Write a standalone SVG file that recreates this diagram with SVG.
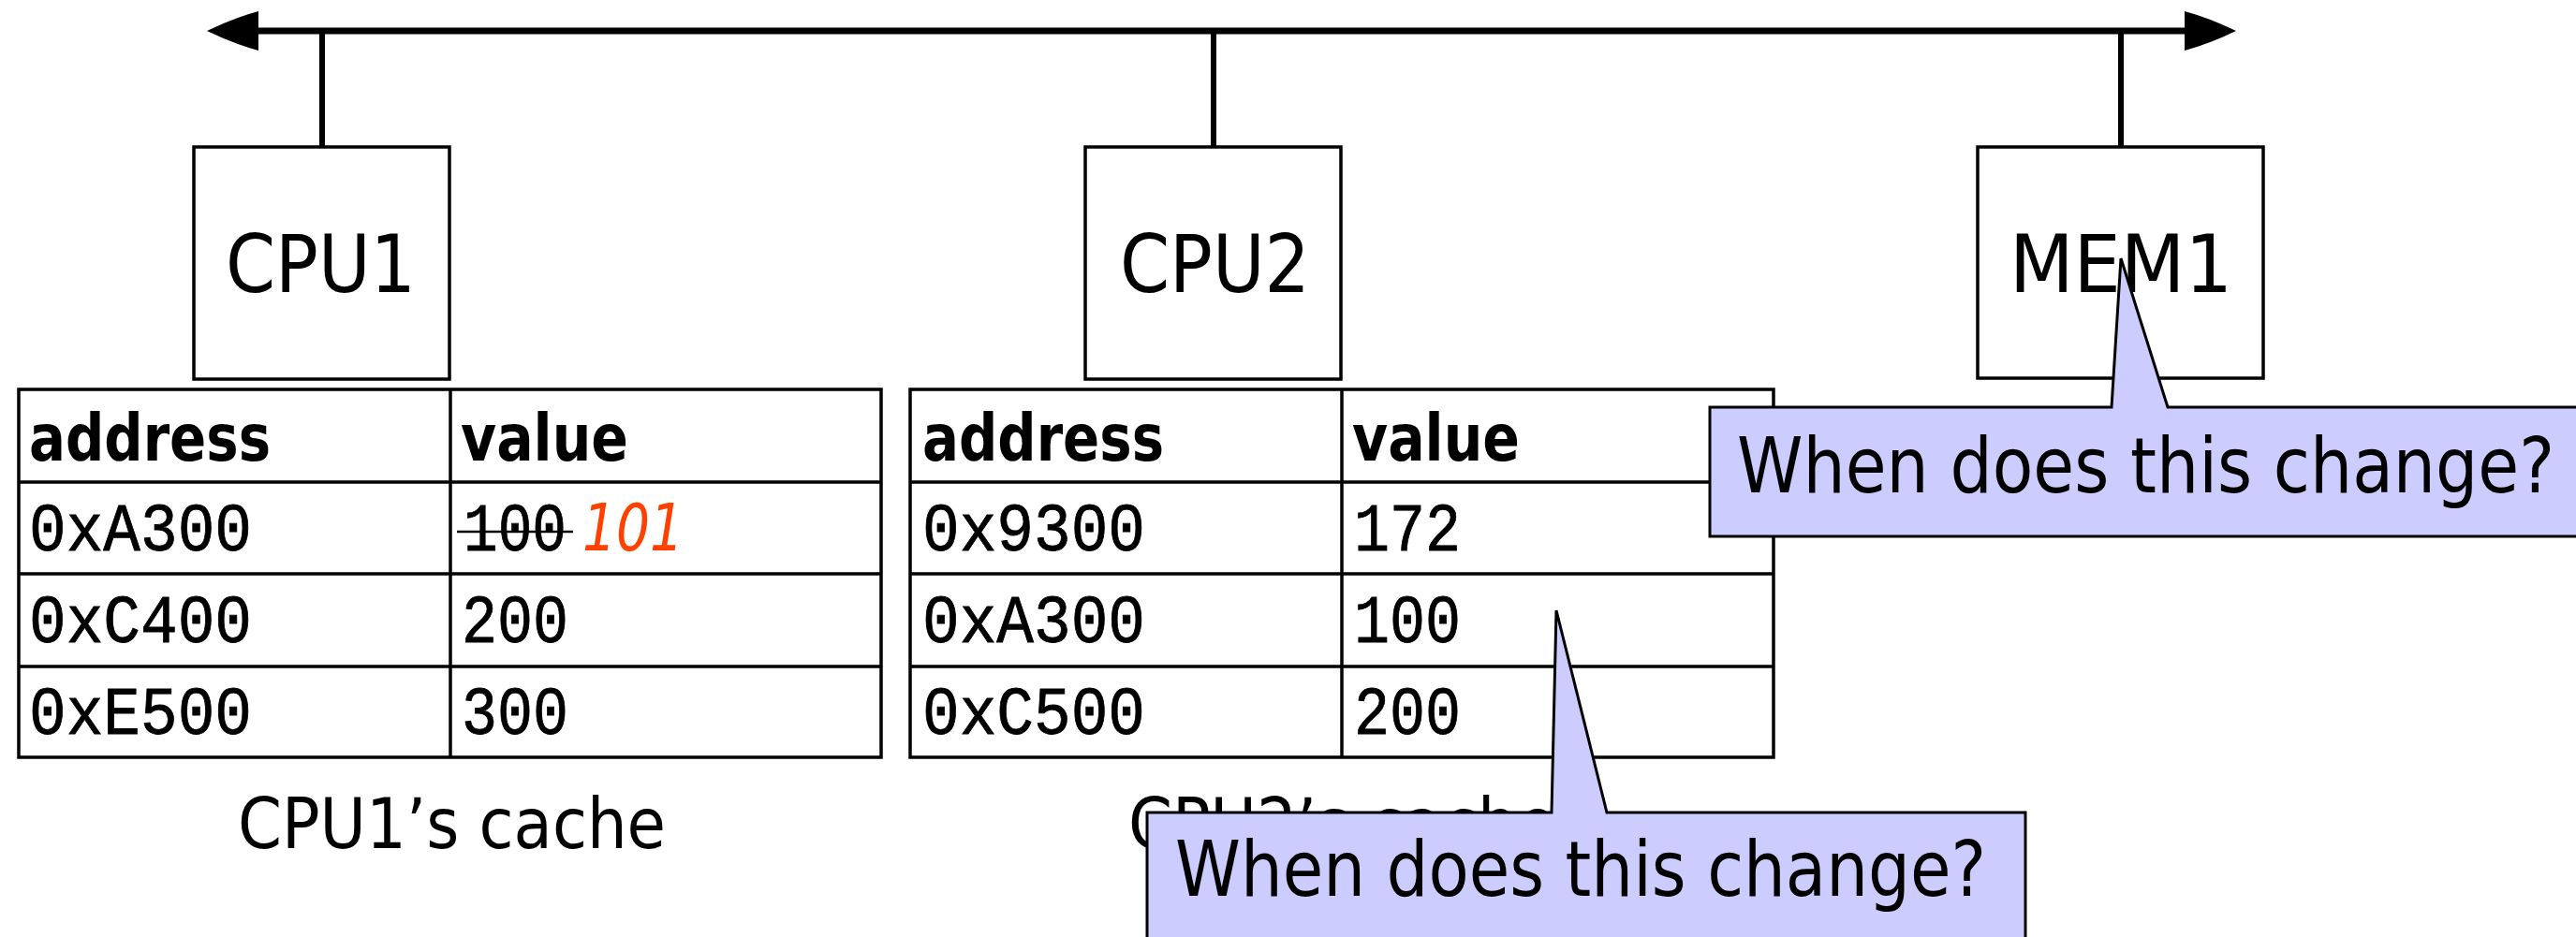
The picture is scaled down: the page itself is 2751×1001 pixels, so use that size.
<svg xmlns="http://www.w3.org/2000/svg" width="2751" height="1001" viewBox="0 0 2751 1001">
  <style>
    .box { fill: #ffffff; stroke: #000000; stroke-width: 3.5; }
    .grid { fill: none; stroke: #000000; stroke-width: 3.5; }
    .stub { stroke: #000000; stroke-width: 6; fill: none; }
    .bus { stroke: #000000; stroke-width: 7; fill: none; }
    .callout { fill: #ccccff; stroke: #000000; stroke-width: 3; stroke-linejoin: miter; }
    .sans { font-family: "DejaVu Sans", "Liberation Sans", sans-serif; fill: #000000; }
    .node { font-size: 85px; }
    .cap { font-size: 74px; }
    .note { font-size: 82px; }
    .head { font-family: "DejaVu Sans", "Liberation Sans", sans-serif; font-weight: bold; font-size: 70px; fill: #000000; }
    .mono { font-family: "Liberation Mono", "DejaVu Sans Mono", monospace; font-size: 72px; fill: #000000; stroke: #000000; stroke-width: 0.8; }
    .new { font-family: "DejaVu Sans", "Liberation Sans", sans-serif; font-style: italic; font-size: 70px; fill: #ff4000; }
  </style>
  <defs>
    <marker id="tip" markerUnits="userSpaceOnUse" markerWidth="56" markerHeight="44" viewBox="0 0 56 44" refX="0" refY="22" orient="auto-start-reverse">
      <path d="M0,1 Q26,8 55,22 Q26,36 0,43 Z" fill="#000000"/>
    </marker>
  </defs>

  <!-- system bus with stubs down to each unit -->
  <g id="connectors">
    <line class="bus" x1="276" y1="33" x2="2333" y2="33" marker-start="url(#tip)" marker-end="url(#tip)"/>
    <line class="stub" x1="344" y1="33" x2="344" y2="157"/>
    <line class="stub" x1="1296" y1="33" x2="1296" y2="157"/>
    <line class="stub" x1="2265" y1="33" x2="2265" y2="157"/>
  </g>

  <g id="cpu1">
    <rect class="box" x="207" y="157" width="273" height="248"/>
    <text class="sans node" x="241" y="312" textLength="203" lengthAdjust="spacingAndGlyphs">CPU1</text>
  </g>

  <g id="cpu2">
    <rect class="box" x="1159" y="157" width="273" height="248"/>
    <text class="sans node" x="1196" y="312" textLength="203" lengthAdjust="spacingAndGlyphs">CPU2</text>
  </g>

  <g id="mem1">
    <rect class="box" x="2112" y="157" width="305" height="247"/>
    <text class="sans node" x="2146" y="312" textLength="238" lengthAdjust="spacingAndGlyphs">MEM1</text>
  </g>

  <!-- CPU1 cache table -->
  <g id="cache1">
    <rect class="grid" x="20" y="416" width="921" height="393"/>
    <line class="grid" x1="481" y1="416" x2="481" y2="809"/>
    <line class="grid" x1="20" y1="515" x2="941" y2="515"/>
    <line class="grid" x1="20" y1="613" x2="941" y2="613"/>
    <line class="grid" x1="20" y1="712" x2="941" y2="712"/>
    <text class="head" x="31" y="492" textLength="258" lengthAdjust="spacingAndGlyphs">address</text>
    <text class="head" x="492" y="492" textLength="179" lengthAdjust="spacingAndGlyphs">value</text>
    <text class="mono" x="31" y="588" textLength="238" lengthAdjust="spacingAndGlyphs">0xA300</text>
    <text class="mono" x="495" y="588" textLength="110" lengthAdjust="spacingAndGlyphs">100</text>
    <line x1="488" y1="568" x2="612" y2="568" stroke="#000000" stroke-width="2.5"/>
    <text class="new" x="622" y="588" textLength="108" lengthAdjust="spacingAndGlyphs">101</text>
    <text class="mono" x="31" y="686" textLength="238" lengthAdjust="spacingAndGlyphs">0xC400</text>
    <text class="mono" x="493" y="686" textLength="114" lengthAdjust="spacingAndGlyphs">200</text>
    <text class="mono" x="31" y="784" textLength="238" lengthAdjust="spacingAndGlyphs">0xE500</text>
    <text class="mono" x="493" y="784" textLength="114" lengthAdjust="spacingAndGlyphs">300</text>
    <text class="sans cap" x="254" y="906" textLength="457" lengthAdjust="spacingAndGlyphs">CPU1’s cache</text>
  </g>

  <!-- CPU2 cache table -->
  <g id="cache2">
    <rect class="grid" x="972" y="416" width="922" height="393"/>
    <line class="grid" x1="1433" y1="416" x2="1433" y2="809"/>
    <line class="grid" x1="972" y1="515" x2="1894" y2="515"/>
    <line class="grid" x1="972" y1="613" x2="1894" y2="613"/>
    <line class="grid" x1="972" y1="712" x2="1894" y2="712"/>
    <text class="head" x="985" y="492" textLength="258" lengthAdjust="spacingAndGlyphs">address</text>
    <text class="head" x="1444" y="492" textLength="179" lengthAdjust="spacingAndGlyphs">value</text>
    <text class="mono" x="985" y="588" textLength="238" lengthAdjust="spacingAndGlyphs">0x9300</text>
    <text class="mono" x="1446" y="588" textLength="114" lengthAdjust="spacingAndGlyphs">172</text>
    <text class="mono" x="985" y="686" textLength="238" lengthAdjust="spacingAndGlyphs">0xA300</text>
    <text class="mono" x="1446" y="686" textLength="114" lengthAdjust="spacingAndGlyphs">100</text>
    <text class="mono" x="985" y="784" textLength="238" lengthAdjust="spacingAndGlyphs">0xC500</text>
    <text class="mono" x="1446" y="784" textLength="114" lengthAdjust="spacingAndGlyphs">200</text>
    <text class="sans cap" x="1205" y="906" textLength="457" lengthAdjust="spacingAndGlyphs">CPU2’s cache</text>
  </g>

  <!-- speech-bubble notes -->
  <g id="note-mem">
    <path class="callout" d="M1826,435 L2255,435 L2265,276 L2315,435 L2760,435 L2760,573 L1826,573 Z"/>
    <text class="sans note" x="1855" y="526" textLength="873" lengthAdjust="spacingAndGlyphs">When does this change?</text>
  </g>

  <g id="note-cache2">
    <path class="callout" d="M1225,868 L1657,868 L1662,652 L1716,868 L2163,868 L2163,1010 L1225,1010 Z"/>
    <text class="sans note" x="1255" y="957" textLength="866" lengthAdjust="spacingAndGlyphs">When does this change?</text>
  </g>
</svg>
